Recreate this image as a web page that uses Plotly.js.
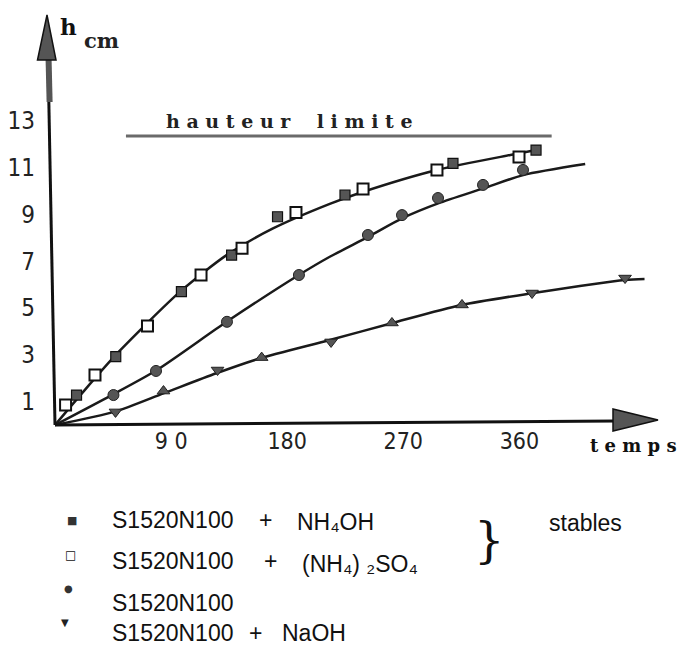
<!DOCTYPE html>
<html>
<head>
<meta charset="utf-8">
<script src="https://cdn.plot.ly/plotly-3.0.1.min.js"></script>
<style>html,body{margin:0;padding:0;background:#fff;}#chart{width:683px;height:645px;}</style>
</head>
<body>
<div id="chart"></div>
<script>
// ---- data (time in min, height in cm) ----
const xTicks = [90, 180, 270, 360];
const xTickText = ['9 0', '180', '270', '360'];
const yTicks = [1, 3, 5, 7, 9, 11, 13];

// NH4OH (filled squares)
const nh4ohT = [16.7, 47.1, 98, 136.9, 172.5, 224.8, 308.5, 372.9];
const nh4ohH = [1.28, 2.92, 5.70, 7.26, 8.90, 9.83, 11.18, 11.75];
// (NH4)2SO4 (open squares)
const sulfT = [8.2, 31, 71.7, 113.2, 145, 186.8, 238.8, 296.1, 359.7];
const sulfH = [0.85, 2.14, 4.23, 6.41, 7.55, 9.08, 10.09, 10.90, 11.45];
// S1520N100 alone (circles)
const pureT = [45.3, 78.3, 133.3, 189.1, 242.6, 269, 296.9, 331.8, 362.8];
const pureH = [1.28, 2.31, 4.41, 6.41, 8.12, 8.97, 9.70, 10.26, 10.90];
// NaOH (triangles)
const naohT = [46.9, 84.1, 126, 160.2, 214, 261.2, 315.5, 369.8, 441.9];
const naohH = [0.56, 1.45, 2.35, 2.88, 3.55, 4.36, 5.13, 5.64, 6.28];
const naohSym = ['triangle-down','triangle-up','triangle-down','triangle-up','triangle-down','triangle-up','triangle-up','triangle-down','triangle-down'];

// hand-drawn curves
const stableCurveT = [0, 20, 48, 97, 133, 169, 213, 239, 296, 353, 376];
const stableCurveH = [0, 1.3, 3.05, 5.7, 7.26, 8.4, 9.45, 9.97, 10.9, 11.54, 11.78];
const pureCurveT = [0, 44, 79, 133, 189, 213, 243, 269, 297, 332, 363, 411];
const pureCurveH = [0, 1.28, 2.35, 4.41, 6.41, 7.19, 8.05, 8.83, 9.47, 10.11, 10.68, 11.15];
const naohCurveT = [0, 46.5, 84, 125, 159, 213, 261, 315, 369.5, 442, 457];
const naohCurveH = [0, 0.57, 1.35, 2.21, 2.85, 3.63, 4.35, 5.13, 5.63, 6.2, 6.24];

// limit height line
const limitT = [55, 385];
const limitH = [12.35, 12.35];

// ---- layout geometry ----
const W = 683, H = 645;
const mL = 36, mR = 15, mT = 10, mB = 212;
const X0 = 55, Y0 = 425, SX = 1.29, SY = 23.4; // origin pixel and px per unit
const xRange = [(mL - X0) / SX, (W - mR - X0) / SX];
const yRange = [(Y0 - (H - mB)) / SY, (Y0 - mT) / SY];
const tx = X => (X - X0) / SX;
const vy = Y => (Y0 - Y) / SY;
const px = X => (X - mL) / (W - mL - mR);
const py = Y => ((H - mB) - Y) / (H - mT - mB);

const curveLine = {color: '#1a1a1a', width: 2.5, shape: 'spline', smoothing: 0.7};
const traces = [
  {x: stableCurveT, y: stableCurveH, mode: 'lines', line: curveLine, hoverinfo: 'skip'},
  {x: pureCurveT, y: pureCurveH, mode: 'lines', line: curveLine, hoverinfo: 'skip'},
  {x: naohCurveT, y: naohCurveH, mode: 'lines', line: curveLine, hoverinfo: 'skip'},
  {x: limitT, y: limitH, mode: 'lines', line: {color: '#6a6a6a', width: 3}, hoverinfo: 'skip'},
  {x: nh4ohT, y: nh4ohH, mode: 'markers', name: 'S1520N100 + NH4OH',
   marker: {symbol: 'square', size: 10, color: '#555', line: {color: '#111', width: 1.2}}},
  {x: sulfT, y: sulfH, mode: 'markers', name: 'S1520N100 + (NH4)2SO4',
   marker: {symbol: 'square', size: 11, color: '#fff', line: {color: '#111', width: 2}}},
  {x: pureT, y: pureH, mode: 'markers', name: 'S1520N100',
   marker: {symbol: 'circle', size: 11, color: '#555', line: {color: '#222', width: 1}}},
  {x: naohT, y: naohH, mode: 'markers', name: 'S1520N100 + NaOH',
   marker: {symbol: naohSym, size: 11, color: '#555', line: {color: '#222', width: 1}}}
];
traces.forEach(t => { t.showlegend = false; t.cliponaxis = false; });

const narrow = 'Liberation Sans Narrow, DejaVu Sans Condensed, Arial Narrow, sans-serif';
const sans = 'Liberation Sans, Arial, Helvetica, sans-serif';
const serifB = 'DejaVu Serif, Liberation Serif, serif';
const nb = '\u00A0';
const spaced = s => s.split('').map(c => c === ' ' ? nb + nb : c).join(nb);

function txt(text, X, Y, opt) {
  return Object.assign({
    text: text, xref: 'paper', yref: 'paper', x: px(X), y: py(Y),
    xanchor: 'left', yanchor: 'middle', showarrow: false,
    font: {family: sans, size: 23, color: '#111'}
  }, opt || {});
}

const annotations = [
  // axis names
  txt('<b>h</b>', 58, 27, {font: {family: serifB, size: 23, color: '#111'}}),
  txt('<b>cm</b>', 82, 40, {font: {family: serifB, size: 21, color: '#222'}}),
  txt('<b>' + spaced('temps') + '</b>', 588, 445, {font: {family: serifB, size: 18, color: '#111'}}),
  txt('<b>' + spaced('hauteur limite') + '</b>', 164, 121, {font: {family: serifB, size: 19, color: '#222'}}),
  // legend markers
  txt('■', 72, 520, {xanchor: 'center', font: {family: 'DejaVu Sans', size: 11, color: '#333'}}),
  txt('□', 70, 555, {xanchor: 'center', font: {family: 'DejaVu Sans', size: 12, color: '#111'}}),
  txt('●', 68, 588, {xanchor: 'center', font: {family: 'DejaVu Sans', size: 10, color: '#333'}}),
  txt('▼', 65, 622, {xanchor: 'center', font: {family: 'DejaVu Sans', size: 10, color: '#222'}}),
  // legend texts
  txt('S1520N100', 110, 520),
  txt('+', 265, 520, {xanchor: 'center'}),
  txt('NH\u2084OH', 295, 522),
  txt('S1520N100', 110, 561),
  txt('+', 270, 561, {xanchor: 'center'}),
  txt('(NH\u2084) \u2082SO\u2084', 300, 564),
  txt('S1520N100', 110, 603),
  txt('S1520N100', 110, 633),
  txt('+', 255, 633, {xanchor: 'center'}),
  txt('NaOH', 280, 633),
  txt('}', 489, 540, {xanchor: 'center', font: {family: 'DejaVu Serif, serif', size: 48, color: '#111'}}),
  txt('stables', 547, 523)
];

const shapes = [
  // y axis with arrow
  {type: 'line', x0: tx(55), y0: vy(425), x1: tx(48), y1: vy(58), line: {color: '#111', width: 3}},
  {type: 'line', x0: tx(48.6), y0: vy(60), x1: tx(49.6), y1: vy(102), line: {color: '#555', width: 6}},
  {type: 'path', path: `M${tx(47)},${vy(15)} L${tx(37.5)},${vy(60)} L${tx(56)},${vy(60)} Z`,
   fillcolor: '#555', line: {color: '#111', width: 1.5}},
  // x axis with arrow
  {type: 'line', x0: tx(55), y0: vy(425), x1: tx(616), y1: vy(421), line: {color: '#111', width: 3}},
  {type: 'path', path: `M${tx(658)},${vy(420)} L${tx(613)},${vy(409)} L${tx(613)},${vy(431)} Z`,
   fillcolor: '#555', line: {color: '#111', width: 1.5}}
];

const layout = {
  width: W, height: H,
  margin: {l: mL, r: mR, t: mT, b: mB, pad: 0},
  paper_bgcolor: '#fff', plot_bgcolor: '#fff',
  showlegend: false,
  xaxis: {range: xRange, anchor: 'free', position: (0 - yRange[0]) / (yRange[1] - yRange[0]),
          tickvals: xTicks, ticktext: xTickText, ticks: '', showline: false, showgrid: false,
          zeroline: false, fixedrange: true,
          tickfont: {family: narrow, size: 23, color: '#222'}},
  yaxis: {range: yRange, tickvals: yTicks, ticks: '', showline: false, showgrid: false,
          zeroline: false, fixedrange: true,
          tickfont: {family: narrow, size: 24, color: '#222'}},
  shapes: shapes,
  annotations: annotations
};

Plotly.newPlot('chart', traces, layout, {staticPlot: true, displayModeBar: false});
</script>
</body>
</html>
